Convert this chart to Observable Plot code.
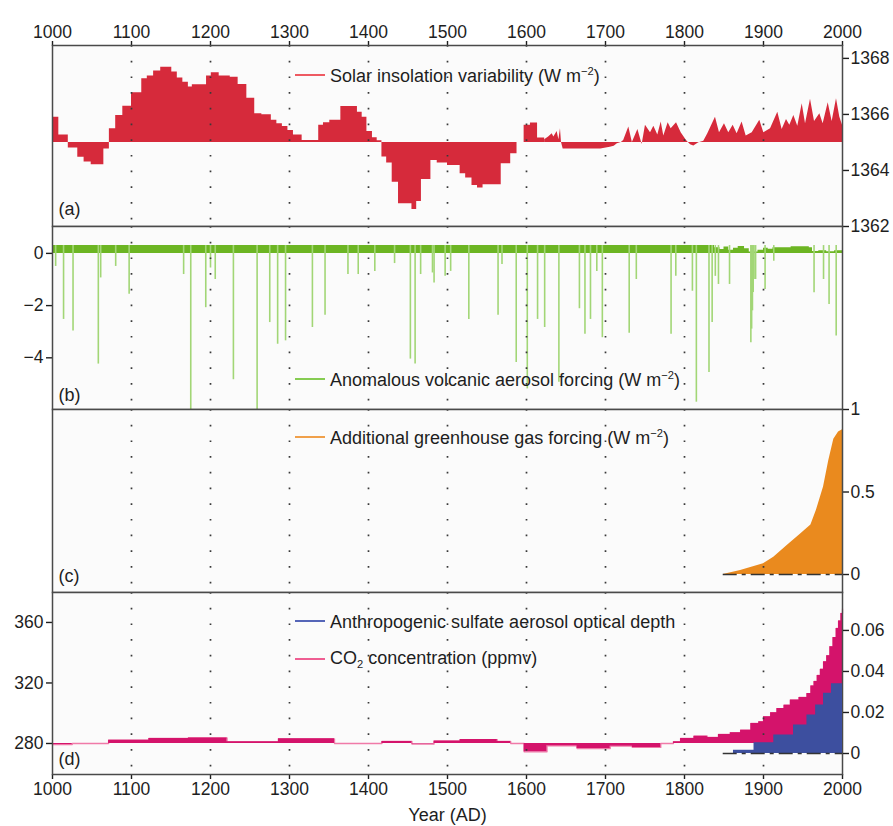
<!DOCTYPE html>
<html>
<head>
<meta charset="utf-8">
<script src="https://cdn.jsdelivr.net/npm/d3@7"></script>
<script src="https://cdn.jsdelivr.net/npm/@observablehq/plot@0.6"></script>
<style>
  html, body { margin: 0; padding: 0; background: #ffffff; }
  #chart { position: relative; width: 893px; height: 826px; font-family: "Liberation Sans", Arial, Helvetica, sans-serif; color: #1e1e1e; }
  .panel { position: absolute; left: 0; }
  .panel svg { display: block; overflow: visible; }
  .leg { position: absolute; left: 330px; font-size: 18px; line-height: 18px; white-space: nowrap; color: #1e1e1e; }
  .swatch { position: absolute; left: 295px; width: 30px; height: 2px; }
  .leg sup, .leg sub { font-size: 0.62em; line-height: 0; position: relative; vertical-align: baseline; }
  .leg sup { top: -0.62em; }
  .leg sub { top: 0.35em; }
</style>
</head>
<body>
<div id="chart"></div>
<script>
// ---------- data ----------
const centuryTicks = [1000, 1100, 1200, 1300, 1400, 1500, 1600, 1700, 1800, 1900, 2000];
const gridYears = [1100, 1200, 1300, 1400, 1500, 1600, 1700, 1800, 1900];

// (a) solar insolation, stepped part (start year of each step, W m-2)
const solarStepYears = [1000,1008,1020,1032,1040,1049,1065,1072,1080,1089,1100,1113,1120,1128,1137,1151,1158,1165,1172,1177,1195,1201,1211,1225,1235,1246,1256,1265,1277,1284,1291,1298,1305,1316,1337,1343,1351,1365,1386,1392,1398,1405,1411,1417,1423,1430,1438,1455,1461,1467,1479,1487,1500,1516,1523,1531,1538,1545,1568,1580,1588,1597,1605,1614,1623];
const solarStepValues = [1365.90,1365.27,1364.80,1364.47,1364.30,1364.20,1364.77,1365.49,1365.96,1366.29,1366.77,1367.27,1367.37,1367.55,1367.68,1367.51,1367.30,1367.15,1366.98,1367.06,1367.37,1367.49,1367.37,1367.33,1367.07,1366.58,1366.02,1365.99,1365.79,1365.67,1365.57,1365.43,1365.27,1365.07,1365.61,1365.70,1365.79,1366.28,1366.08,1365.90,1365.39,1365.17,1365.06,1364.48,1364.27,1363.58,1362.81,1362.61,1362.89,1363.68,1364.36,1364.27,1364.18,1363.88,1363.73,1363.46,1363.37,1363.49,1364.24,1364.60,1365.00,1365.61,1365.69,1365.16,1365.10];
// (a) solar insolation, cycle part
const solarCycYears = [1623,1628,1632.5,1634.6,1638.8,1641,1643,1644.3,1646.4,1660,1694,1706,1711,1715,1720,1723,1729.5,1734,1741,1746.4,1750.6,1757,1761.2,1766.2,1770.5,1773.8,1779.3,1783.1,1789.9,1795.8,1802.5,1807.6,1811.8,1818.1,1824.4,1829.5,1839.2,1844.3,1850.6,1856,1861.6,1866.6,1872.9,1878.1,1885.7,1895.3,1900.4,1908.9,1918.1,1923.6,1929.1,1933.3,1938.4,1943.4,1949,1953.2,1959.5,1964.6,1971.3,1975.5,1981.9,1986.9,1992.4,1996.6,2000];
const solarCycValues = [1365.10,1365.19,1365.31,1365.19,1365.39,1365.10,1365.49,1365.00,1364.77,1364.77,1364.77,1364.83,1364.86,1364.95,1365.00,1365.07,1365.55,1365.00,1365.46,1364.93,1365.61,1365.35,1365.58,1365.27,1365.73,1365.23,1365.70,1365.49,1365.70,1365.35,1365.07,1364.92,1364.87,1364.99,1365.04,1365.31,1365.90,1365.35,1365.67,1365.35,1365.61,1365.31,1365.73,1365.23,1365.35,1365.79,1365.35,1365.49,1366.08,1365.46,1365.82,1365.61,1365.96,1365.58,1366.38,1365.67,1366.54,1365.75,1366.02,1365.67,1366.42,1365.75,1366.56,1365.90,1365.61];
const solarTicks = [1362, 1364, 1366, 1368];

// (b) volcanic aerosol forcing: eruptions (year, W m-2)
const volcYears = [1004,1014,1026,1058,1061,1080,1097,1166,1175,1194,1200,1206,1229,1259,1275,1285,1295,1329,1345,1374,1387,1408,1433,1453,1459,1466,1481,1483,1497,1504,1527,1564,1569,1587,1601,1614,1623,1641,1667,1674,1681,1689,1696,1730,1739,1783,1789,1810,1815,1831,1835,1839,1843,1857,1884,1885,1886,1887,1888,1890,1902,1913,1964,1976,1983,1992];
const volcValues = [-0.5,-2.53,-2.97,-4.24,-0.94,-0.5,-1.57,-0.81,-6.0,-2.08,-0.56,-1.0,-4.84,-6.0,-2.65,-3.48,-3.35,-2.84,-2.37,-0.81,-0.81,-0.69,-0.39,-4.05,-4.24,-0.81,-0.75,-1.13,-0.88,-0.69,-2.53,-2.37,-0.43,-4.18,-5.19,-2.53,-2.84,-4.94,-2.12,-3.10,-2.53,-0.69,-3.23,-3.06,-1.0,-3.10,-0.88,-1.45,-5.70,-4.56,-2.65,-0.88,-1.19,-1.19,-3.42,-2.9,-2.2,-1.5,-1.0,-1.0,-1.38,-0.3,-1.51,-1.0,-1.96,-3.16];
// (b) background (positive) forcing, stepped
const bandYears = [1000,1838,1845,1850,1856,1862,1868,1876,1882,1893,1900,1906,1912,1935,1958,1962,1970,1980,1990,2000];
const bandValues = [0.3,0.22,0.15,0.24,0.12,0.2,0.26,0.18,0.05,0.12,0.2,0.16,0.22,0.25,0.22,0.07,0.1,0.06,0.1,0.1];
const volcTicks = [-4, -2, 0];

// (c) additional greenhouse gas forcing
const ghgYears = [1849,1871,1900,1913,1930,1947,1960,1967,1976,1982.6,1989,1995,2000];
const ghgValues = [0,0.024,0.065,0.105,0.176,0.245,0.30,0.39,0.53,0.69,0.82,0.864,0.878];
const ghgTicks = [0, 0.5, 1];

// (d) CO2 concentration (ppmv), stepped
const co2Years = [1000,1025,1071,1122,1172,1221,1286,1357,1417,1455,1483,1516,1563,1580,1597,1626,1664,1706,1734,1770,1786,1795,1812,1829,1843,1858,1871,1884,1894,1900,1909,1917,1926,1934,1945,1955,1960,1964,1968,1972,1976,1980,1984,1988,1992,1995,1998,2000];
const co2Values = [279.3,280.0,282.2,283.3,283.7,281.1,283.1,280.0,281.3,279.6,281.6,282.6,281.3,280.0,274.5,278.5,276.7,278.2,277.4,280.0,281.1,283.3,284.8,284.0,286.0,287.1,288.8,293.2,294.3,297.6,300.3,303.1,305.3,308.7,310.4,313.0,318.0,321.0,325.0,329.0,334.0,338.0,344.0,350.0,356.0,361.0,366.0,369.0];
const co2Ticks = [280, 320, 360];
// (d) anthropogenic sulfate aerosol optical depth, stepped
const sulfYears = [1849,1862,1888,1913,1938,1955,1966,1976,1986,2000];
const sulfValues = [0,0.0016,0.0052,0.009,0.0139,0.0188,0.0237,0.0294,0.034,0.034];
const sulfTicks = [0, 0.02, 0.04, 0.06];

const legendLabels = [
  "Solar insolation variability (W m<sup>\u22122</sup>)",
  "Anomalous volcanic aerosol forcing (W m<sup>\u22122</sup>)",
  "Additional greenhouse gas forcing (W m<sup>\u22122</sup>)",
  "Anthropogenic sulfate aerosol optical depth",
  "CO<sub>2</sub> concentration (ppmv)"
];
const panelTags = ["(a)", "(b)", "(c)", "(d)"];
const xLabel = "Year (AD)";

// ---------- helpers ----------
const zip = (xs, ys) => xs.map((year, i) => ({year, value: ys[i]}));
const solarStep = zip(solarStepYears, solarStepValues);
const solarCyc = zip(solarCycYears, solarCycValues);
const volc = zip(volcYears, volcValues);
const band = zip(bandYears, bandValues);
const ghg = zip(ghgYears, ghgValues);
const co2 = zip(co2Years, co2Values);
const sulf = zip(sulfYears, sulfValues);

const FONT = '"Liberation Sans", Arial, Helvetica, sans-serif';
const svgStyle = {fontFamily: FONT, fontSize: "17.5px", color: "#1e1e1e", background: "transparent", overflow: "visible"};
const layout = {width: 893, marginLeft: 52, marginRight: 51};
const X = {domain: [1000, 2000]};
const FRAME = "#4a4a4a";
const RED = "#d62a3b", GREEN = "#6cb523", GREEN_L = "#a2d676", ORANGE = "#ea8a1e", PINK = "#d4136b", BLUE = "#3d4f9f";
const numFmt = d => d < 0 ? "\u2212" + Math.abs(d) : String(d);

const bg = () => Plot.frame({fill: "#fbfbfb", stroke: "none"});
const border = () => Plot.frame({stroke: FRAME, strokeWidth: 1.5});
const grid = () => Plot.ruleX(gridYears, {stroke: "#3a3a3a", strokeWidth: 1.7, strokeDasharray: "1.7,14"});
const tag = (s, dy) => Plot.text([s], {text: d => d, frameAnchor: "bottom-left", textAnchor: "start", lineAnchor: "bottom", dx: 6, dy, fontSize: 18, fill: "#1e1e1e"});

const chart = document.getElementById("chart");
function place(svg, top) {
  const d = document.createElement("div");
  d.className = "panel";
  d.style.top = top + "px";
  d.appendChild(svg);
  chart.appendChild(d);
}

// ---------- panel (a) ----------
const svgA = Plot.plot({
  ...layout, height: 226, marginTop: 45, marginBottom: 0, style: svgStyle,
  x: X, y: {domain: [1362, 1368.46]},
  marks: [
    bg(),
    Plot.areaY(solarStep, {x: "year", y1: 1365, y2: "value", curve: "step-after", fill: RED}),
    Plot.areaY(solarCyc, {x: "year", y1: 1365, y2: "value", fill: RED}),
    grid(),
    Plot.axisX({anchor: "top", ticks: centuryTicks, tickSize: 5, tickPadding: 3, tickFormat: "d", label: null, strokeWidth: 1.4}),
    Plot.axisY({anchor: "right", ticks: solarTicks, tickSize: 6, tickPadding: 2, tickFormat: "d", label: null, strokeWidth: 1.4}),
    tag(panelTags[0], -12),
    border()
  ]
});
place(svgA, 0);

// ---------- panel (b) ----------
const svgB = Plot.plot({
  ...layout, height: 183, marginTop: 0, marginBottom: 0, style: svgStyle,
  x: {...X, axis: null}, y: {domain: [-5.98, 1.03]},
  marks: [
    bg(),
    Plot.areaY(band, {x: "year", y1: 0, y2: "value", curve: "step-after", fill: GREEN}),
    Plot.ruleX(volc, {x: "year", y1: 0.3, y2: "value", stroke: GREEN_L, strokeWidth: 1.6}),
    grid(),
    Plot.axisY({anchor: "left", ticks: volcTicks, tickSize: 6, tickPadding: 3, tickFormat: numFmt, label: null, strokeWidth: 1.4}),
    tag(panelTags[1], -9),
    border()
  ]
});
place(svgB, 226);

// ---------- panel (c) ----------
const svgC = Plot.plot({
  ...layout, height: 183, marginTop: 0, marginBottom: 0, style: svgStyle,
  x: {...X, axis: null}, y: {domain: [-0.109, 1]},
  marks: [
    bg(),
    Plot.areaY(ghg, {x: "year", y1: 0, y2: "value", fill: ORANGE}),
    Plot.ruleY([0], {x1: ghgYears[0], x2: ghgYears[ghgYears.length - 1], stroke: "#333", strokeWidth: 1.5, strokeDasharray: "14,5,4,5"}),
    grid(),
    Plot.axisY({anchor: "right", ticks: ghgTicks, tickSize: 6, tickPadding: 2, tickFormat: numFmt, label: null, strokeWidth: 1.4}),
    tag(panelTags[2], -11),
    border()
  ]
});
place(svgC, 409);

// ---------- panel (d): CO2 ----------
const svgD = Plot.plot({
  ...layout, height: 234, marginTop: 0, marginBottom: 52, style: svgStyle,
  x: X, y: {domain: [259.5, 379.8]},
  marks: [
    bg(),
    Plot.line(co2, {x: "year", y: "value", curve: "step-after", stroke: "#f07aa8", strokeWidth: 1.3}),
    Plot.areaY(co2, {x: "year", y1: 280, y2: "value", curve: "step-after", fill: PINK}),
    grid(),
    Plot.axisX({anchor: "bottom", ticks: centuryTicks, tickSize: 5, tickPadding: 3, tickFormat: "d", label: null, strokeWidth: 1.4}),
    Plot.axisY({anchor: "left", ticks: co2Ticks, tickSize: 6, tickPadding: 3, tickFormat: "d", label: null, strokeWidth: 1.4}),
    Plot.text([xLabel], {text: d => d, frameAnchor: "bottom", lineAnchor: "bottom", dy: 46, fontSize: 18, fill: "#1e1e1e"}),
    tag(panelTags[3], -10),
    border()
  ]
});
place(svgD, 592);

// ---------- panel (d): sulfate overlay ----------
const svgD2 = Plot.plot({
  ...layout, height: 234, marginTop: 0, marginBottom: 52, style: svgStyle,
  x: {...X, axis: null}, y: {domain: [-0.01024, 0.0785]},
  marks: [
    Plot.areaY(sulf, {x: "year", y1: 0, y2: "value", curve: "step-after", fill: BLUE}),
    Plot.ruleY([0], {x1: sulfYears[0], x2: sulfYears[sulfYears.length - 1], stroke: "#333", strokeWidth: 1.5, strokeDasharray: "14,5,4,5"}),
    Plot.axisY({anchor: "right", ticks: sulfTicks, tickSize: 6, tickPadding: 2, tickFormat: numFmt, label: null, strokeWidth: 1.4})
  ]
});
place(svgD2, 592);

// ---------- legends ----------
const legendColors = ["#ee5a62", "#86cc52", "#f0a04a", "#5566b8", "#ef5e92"];
const legendLineY = [75, 379, 437, 621, 659];
const legendBase = [82, 386, 444.5, 628.3, 664.5];
legendLabels.forEach((txt, i) => {
  const sw = document.createElement("div");
  sw.className = "swatch";
  sw.style.top = (legendLineY[i] - 1) + "px";
  sw.style.background = legendColors[i];
  chart.appendChild(sw);
  const t = document.createElement("div");
  t.className = "leg";
  t.innerHTML = txt;
  t.style.top = (legendBase[i] - 15.2) + "px";
  chart.appendChild(t);
});
</script>
</body>
</html>
